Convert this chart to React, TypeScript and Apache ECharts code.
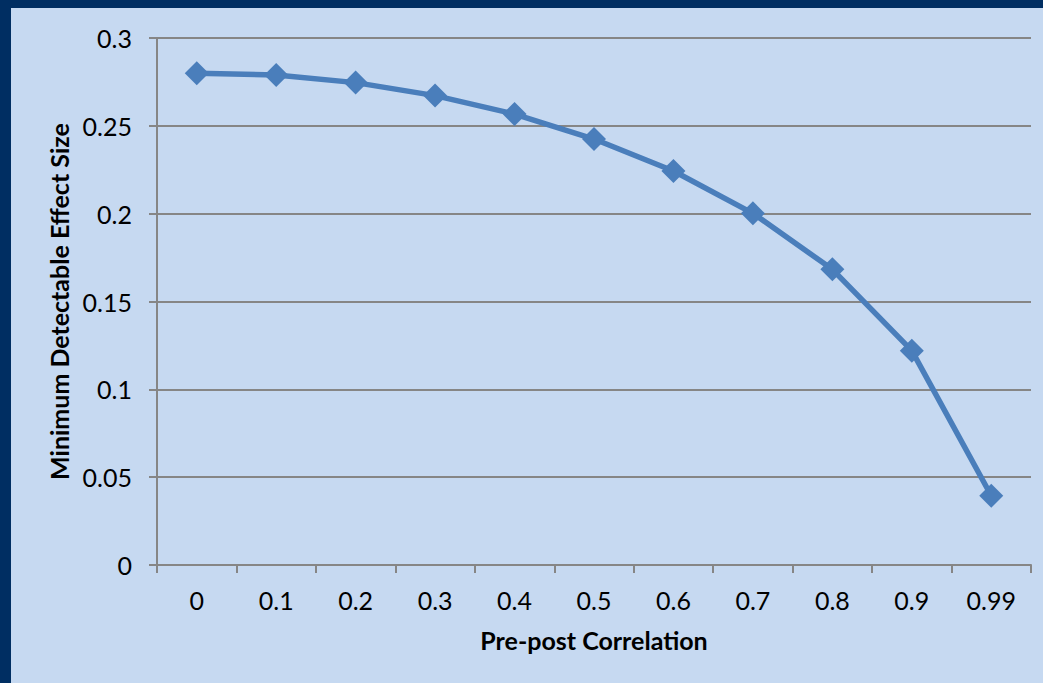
import React, { useEffect, useRef } from "react";
import * as echarts from "echarts";

// Pre-post correlation categories and the resulting minimum detectable effect sizes
const correlations: string[] = ["0", "0.1", "0.2", "0.3", "0.4", "0.5", "0.6", "0.7", "0.8", "0.9", "0.99"];
const mdes: number[] = [0.28, 0.279, 0.2746, 0.2672, 0.2567, 0.2425, 0.2243, 0.2002, 0.1683, 0.122, 0.0394];

const yMin = 0;
const yMax = 0.3;
const yStep = 0.05;

const xTitle = "Pre-post Correlation";
const yTitle = "Minimum Detectable Effect Size";

const FONT = "Lato, 'Open Sans', sans-serif";

export default function App() {
  const ref = useRef<HTMLDivElement>(null);

  useEffect(() => {
    if (!ref.current) return;
    const chart = echarts.init(ref.current, undefined, { renderer: "svg" });
    chart.setOption({
      animation: false,
      backgroundColor: "#002e62",
      graphic: [
        {
          type: "rect",
          shape: { x: 11, y: 8, width: 1032, height: 675 },
          style: { fill: "#c6d9f1" },
          z: -10,
          silent: true,
        },
      ],
      grid: { left: 157, top: 38, right: 12, bottom: 118, containLabel: false },
      xAxis: {
        type: "category",
        data: correlations,
        boundaryGap: true,
        name: xTitle,
        nameLocation: "middle",
        nameGap: 62,
        nameTextStyle: { fontFamily: FONT, fontSize: 25, fontWeight: "bold", color: "#000" },
        axisLine: { show: true, lineStyle: { color: "#868686", width: 2 } },
        axisTick: { show: true, alignWithLabel: false, length: 8, lineStyle: { color: "#868686", width: 2 } },
        axisLabel: { fontFamily: FONT, fontSize: 25, color: "#000", margin: 22 },
        splitLine: { show: false },
      },
      yAxis: {
        type: "value",
        min: yMin,
        max: yMax,
        interval: yStep,
        name: yTitle,
        nameLocation: "middle",
        nameRotate: 90,
        nameGap: 82,
        nameTextStyle: { fontFamily: FONT, fontSize: 25, fontWeight: "bold", color: "#000" },
        axisLine: { show: true, lineStyle: { color: "#868686", width: 2 } },
        axisTick: { show: true, length: 8, lineStyle: { color: "#868686", width: 2 } },
        axisLabel: {
          fontFamily: FONT,
          fontSize: 25,
          color: "#000",
          margin: 25,
          formatter: (v: number) => String(parseFloat(v.toFixed(2))),
        },
        splitLine: { show: true, lineStyle: { color: "#868686", width: 2 } },
      },
      series: [
        {
          type: "line",
          data: mdes,
          symbol: "diamond",
          symbolSize: 24,
          lineStyle: { color: "#4a7ebb", width: 5.5 },
          itemStyle: { color: "#4a7ebb" },
          z: 5,
        },
      ],
    });
    return () => chart.dispose();
  }, []);

  return <div ref={ref} style={{ position: "fixed", left: 0, top: 0, width: 1043, height: 683 }} />;
}
